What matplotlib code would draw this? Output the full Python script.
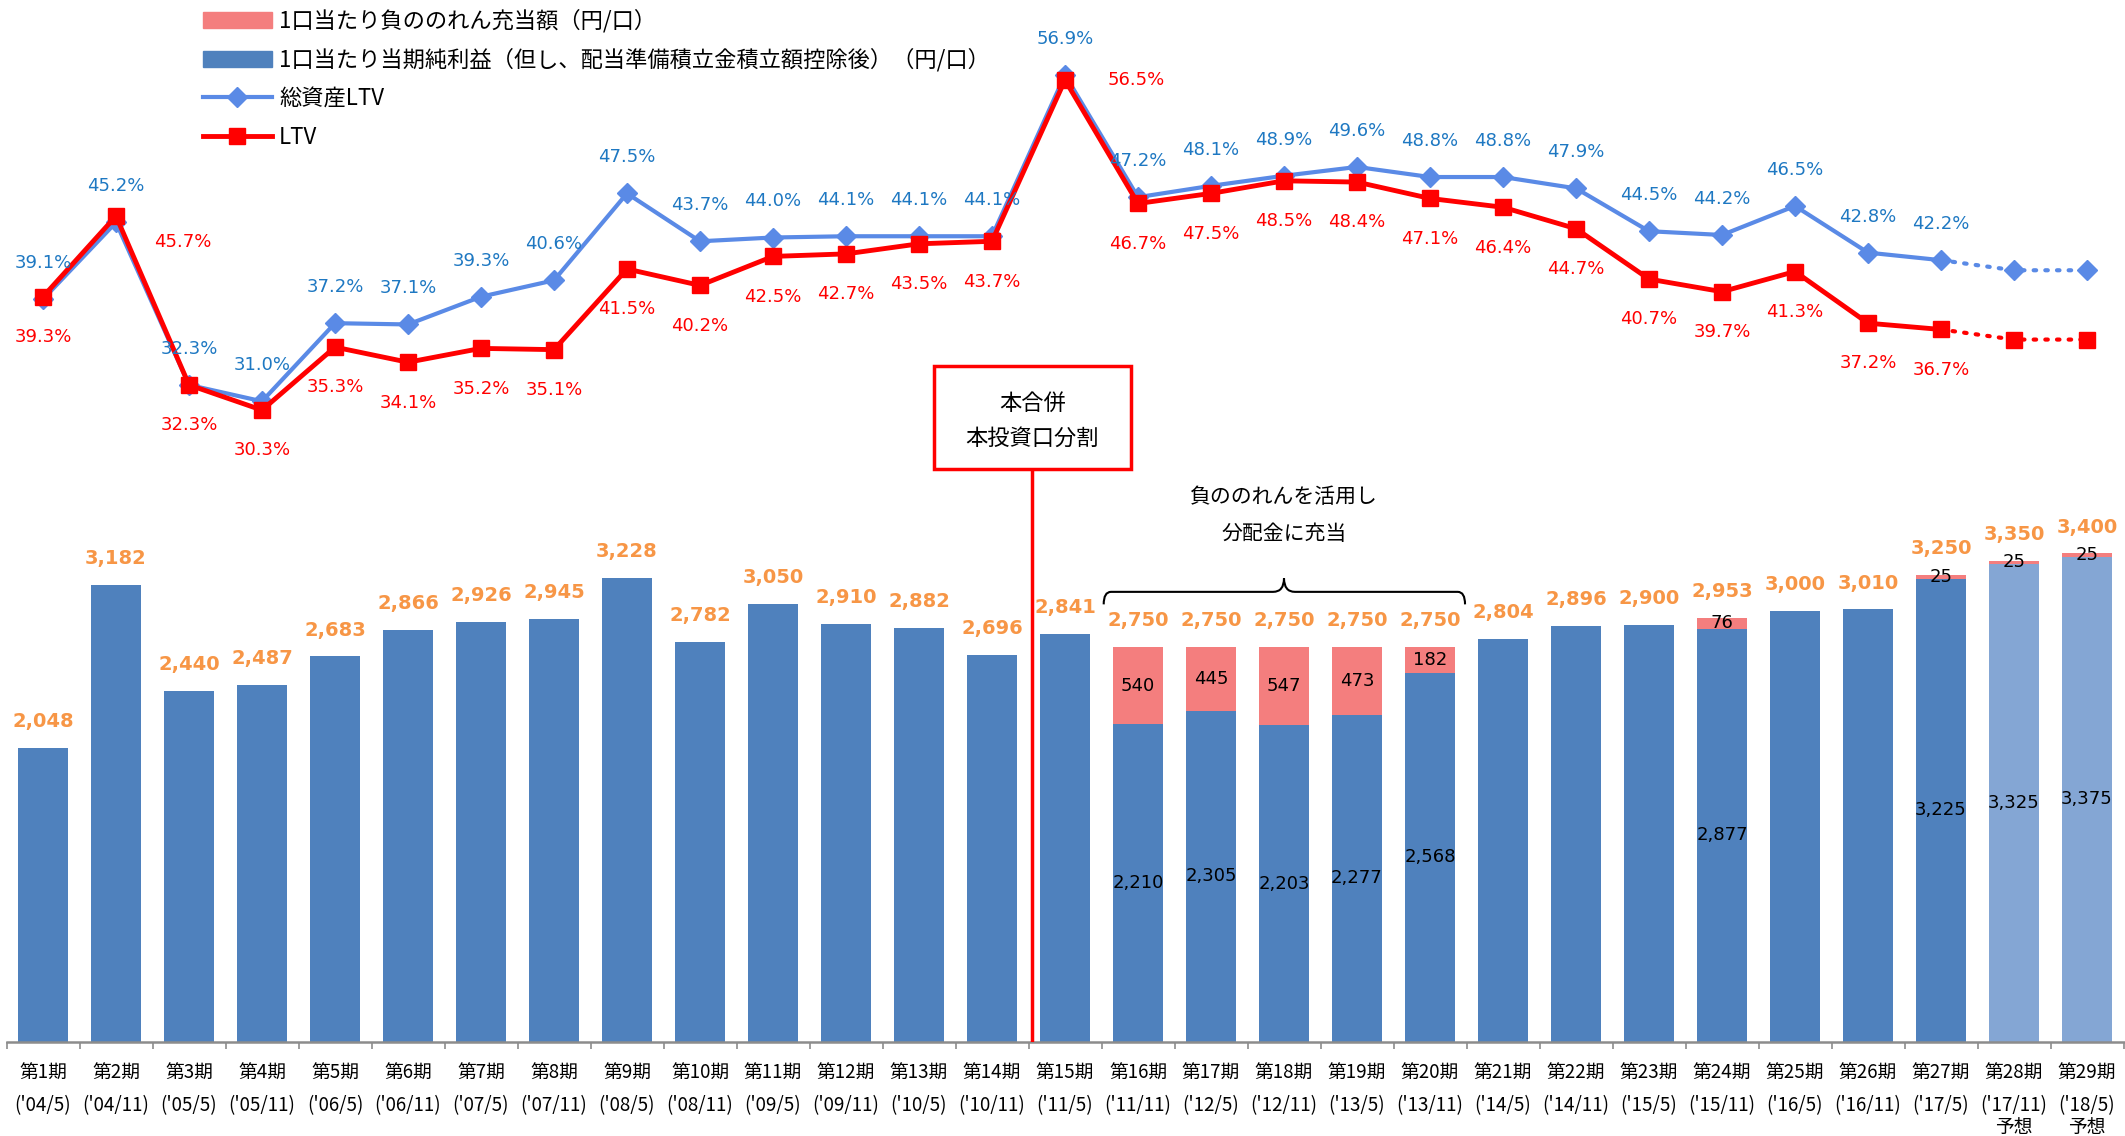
import matplotlib
matplotlib.use('Agg')
import matplotlib.pyplot as plt
from matplotlib.patches import Patch, Rectangle, PathPatch
from matplotlib.lines import Line2D
from matplotlib.path import Path
import matplotlib.transforms as mtransforms

plt.rcParams['font.family'] = ['Noto Sans CJK JP', 'DejaVu Sans']

# 期
periods = ['第%d期' % i for i in range(1, 30)]
dates = ["('04/5)", "('04/11)", "('05/5)", "('05/11)", "('06/5)", "('06/11)", "('07/5)",
         "('07/11)", "('08/5)", "('08/11)", "('09/5)", "('09/11)", "('10/5)", "('10/11)",
         "('11/5)", "('11/11)", "('12/5)", "('12/11)", "('13/5)", "('13/11)", "('14/5)",
         "('14/11)", "('15/5)", "('15/11)", "('16/5)", "('16/11)", "('17/5)", "('17/11)",
         "('18/5)"]
forecast = [False] * 27 + [True, True]

# 1口当たり当期純利益 (円/口)
net_income = [2048, 3182, 2440, 2487, 2683, 2866, 2926, 2945, 3228, 2782, 3050, 2910,
              2882, 2696, 2841, 2210, 2305, 2203, 2277, 2568, 2804, 2896, 2900, 2877,
              3000, 3010, 3225, 3325, 3375]
# 1口当たり負ののれん充当額 (円/口)
goodwill = [0, 0, 0, 0, 0, 0, 0, 0, 0, 0, 0, 0, 0, 0, 0, 540, 445, 547, 473, 182,
            0, 0, 0, 76, 0, 0, 25, 25, 25]

# LTV (%)
ltv_total = [39.1, 45.2, 32.3, 31.0, 37.2, 37.1, 39.3, 40.6, 47.5, 43.7, 44.0, 44.1,
             44.1, 44.1, 56.9, 47.2, 48.1, 48.9, 49.6, 48.8, 48.8, 47.9, 44.5, 44.2,
             46.5, 42.8, 42.2, 41.4, 41.4]
ltv = [39.3, 45.7, 32.3, 30.3, 35.3, 34.1, 35.2, 35.1, 41.5, 40.2, 42.5, 42.7, 43.5,
       43.7, 56.5, 46.7, 47.5, 48.5, 48.4, 47.1, 46.4, 44.7, 40.7, 39.7, 41.3, 37.2,
       36.7, 35.9, 35.9]

blue = '#4F81BD'
blue_fc = '#84A6D4'
pink = '#F47E7E'
orange = '#F79646'
line_blue = '#5A8AE6'
lbl_blue = '#1E78C2'
red = '#FF0000'

W, H = 2125, 1136
fig = plt.figure(figsize=(W / 100, H / 100), dpi=100)
ax = fig.add_axes([6.5 / W, 94 / H, 2117 / W, 1042 / H])
ax2 = ax.twinx()

x = list(range(len(periods)))
cols = [blue_fc if f else blue for f in forecast]
ax.bar(x, net_income, width=0.685, color=cols, zorder=2)
ax.bar(x, goodwill, bottom=net_income, width=0.685, color=pink, zorder=2)

ax.set_xlim(-0.5, 28.5)
ax.set_ylim(0, 7251)

for i in x:
    total = net_income[i] + goodwill[i]
    ax.annotate(f'{total:,}', (i, total), xytext=(0, 19), textcoords='offset points',
                ha='center', va='center', color=orange, fontsize=14, fontweight='bold',
                family='DejaVu Sans')
    if goodwill[i] > 0:
        ax.text(i, net_income[i] + goodwill[i] / 2, f'{goodwill[i]:,}', ha='center',
                va='center', fontsize=13, family='DejaVu Sans', color='black', zorder=3)
        ax.text(i, net_income[i] / 2, f'{net_income[i]:,}', ha='center',
                va='center', fontsize=13, family='DejaVu Sans', color='black', zorder=3)

labels = [p + '\n' + d for p, d in zip(periods, dates)]
ax.set_xticks(x)
ax.set_xticklabels(labels, fontsize=13.5, linespacing=1.68, va='top')
ax.set_xticks([i - 0.5 for i in range(30)], minor=True)
ax.tick_params(axis='x', which='major', length=0, pad=15)
ax.tick_params(axis='x', which='minor', length=5, width=1.2, color='#8C8C8C')
ax.tick_params(axis='y', left=False, labelleft=False)
for s in ['top', 'left', 'right']:
    ax.spines[s].set_visible(False)
ax.spines['bottom'].set_color('#8C8C8C')
ax.spines['bottom'].set_linewidth(1.8)

trx = mtransforms.blended_transform_factory(ax.transData, ax.transAxes)
for i in x:
    if forecast[i]:
        ax.text(i, -86 / 1042, '予想', transform=trx, ha='center', va='center',
                fontsize=13.5, clip_on=False)

# LTV lines
ax2.set_ylim(-19.85, 62.85)
ax2.axis('off')
ax2.plot(x[:27], ltv_total[:27], color=line_blue, lw=3, marker='D', ms=10, zorder=3)
ax2.plot(x[26:], ltv_total[26:], color=line_blue, lw=3, ls=(0, (0.6, 2.2)),
         dash_capstyle='round', zorder=3)
ax2.plot(x[27:], ltv_total[27:], color=line_blue, lw=0, marker='D', ms=10, zorder=3)
ax2.plot(x[:27], ltv[:27], color=red, lw=3.5, marker='s', ms=11, zorder=4)
ax2.plot(x[26:], ltv[26:], color=red, lw=3, ls=(0, (0.6, 2.2)),
         dash_capstyle='round', zorder=4)
ax2.plot(x[27:], ltv[27:], color=red, lw=0, marker='s', ms=11, zorder=4)

for i in range(27):
    ax2.annotate(f'{ltv_total[i]:.1f}%', (i, ltv_total[i]), xytext=(0, 26),
                 textcoords='offset points', ha='center', va='center', color=lbl_blue,
                 fontsize=13, family='DejaVu Sans', zorder=5)
    off = (0, -29)
    if i == 1:
        off = (48, -19)
    elif i == 14:
        off = (51, 0)
    ax2.annotate(f'{ltv[i]:.1f}%', (i, ltv[i]), xytext=off,
                 textcoords='offset points', ha='center', va='center', color=red,
                 fontsize=13, family='DejaVu Sans', zorder=5)

# 本合併 box
tr = mtransforms.blended_transform_factory(ax2.transData, ax2.transAxes)
ax2.plot([13.55, 13.55], [0, 0.55], color=red, lw=2.5, transform=tr, zorder=6,
         solid_capstyle='butt')
ax2.add_patch(Rectangle((12.2, 0.55), 2.7, 0.099, transform=tr, fill=False,
                        ec=red, lw=2.5, zorder=6))
ax2.text(13.55, 0.613, '本合併', transform=tr, ha='center', va='center', fontsize=16)
ax2.text(13.55, 0.579, '本投資口分割', transform=tr, ha='center', va='center', fontsize=16)

# 負ののれん bracket
verts = [(14.53, 0.420), (14.53, 0.432), (14.63, 0.432), (16.85, 0.432),
         (17.0, 0.432), (17.0, 0.445), (17.0, 0.432), (17.15, 0.432),
         (19.38, 0.432), (19.48, 0.432), (19.48, 0.420)]
codes = [Path.MOVETO, Path.CURVE3, Path.CURVE3, Path.LINETO, Path.CURVE3, Path.CURVE3,
         Path.CURVE3, Path.CURVE3, Path.LINETO, Path.CURVE3, Path.CURVE3]
ax2.add_patch(PathPatch(Path(verts, codes), transform=tr, fill=False, ec='black',
                        lw=1.5, zorder=6))
ax2.text(17.0, 0.523, '負ののれんを活用し', transform=tr, ha='center', va='center', fontsize=15)
ax2.text(17.0, 0.4875, '分配金に充当', transform=tr, ha='center', va='center', fontsize=15)

handles = [Patch(color=pink), Patch(color=blue),
           Line2D([], [], color=line_blue, lw=3, marker='D', ms=10),
           Line2D([], [], color=red, lw=3.5, marker='s', ms=11)]
names = ['1口当たり負ののれん充当額（円/口）',
         '1口当たり当期純利益（但し、配当準備積立金積立額控除後）（円/口）',
         '総資産LTV', 'LTV']
fig.legend(handles, names, loc='upper left', bbox_to_anchor=(203 / W, 1 - 9 / H),
           frameon=False, fontsize=16, handlelength=3.1, handletextpad=0.33,
           labelspacing=0.7, borderpad=0, borderaxespad=0)

fig.savefig('out.png', dpi=100)
